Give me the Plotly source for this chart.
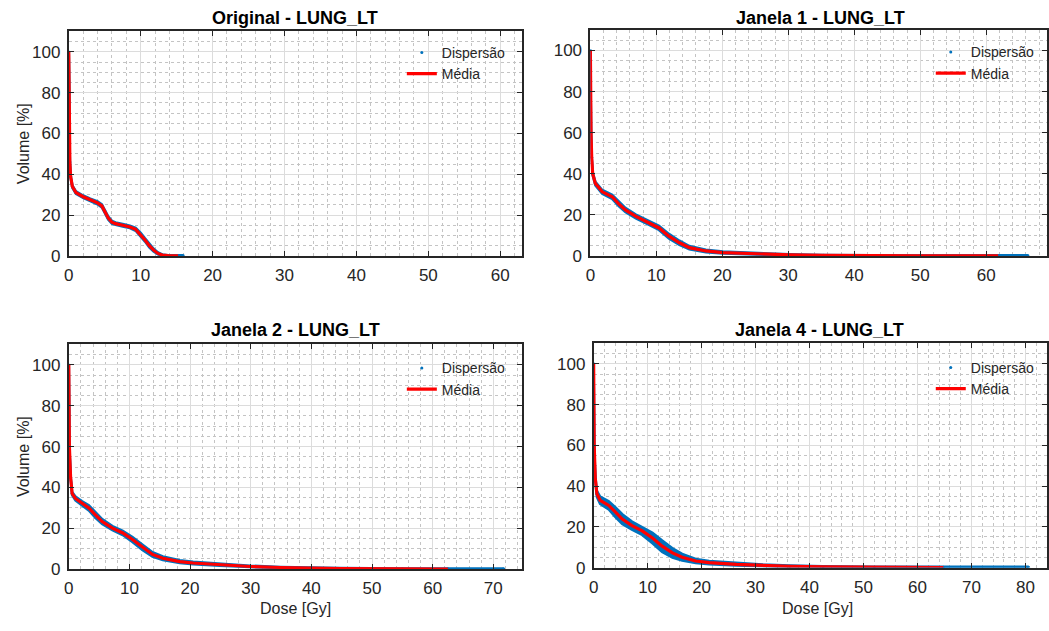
import plotly.graph_objects as go

# ---------------- data ----------------
titles = ["Original - LUNG_LT", "Janela 1 - LUNG_LT", "Janela 2 - LUNG_LT", "Janela 4 - LUNG_LT"]
series_names = ["Dispersão", "Média"]
y_ticks = [0, 20, 40, 60, 80, 100]

# Original
dose_orig = [0, 0.03, 0.08, 0.15, 0.25, 0.5, 1.0, 2.0, 3.0, 4.0, 4.6, 5.0, 5.5, 6.0, 6.5, 7.5, 8.5, 9.3,
             10.0, 10.6, 11.2, 11.8, 12.4, 13.0, 13.8, 15.2]
mean_orig = [100, 80, 60, 46, 39, 34, 31, 29, 27.5, 26, 24.5, 22, 18.5, 16.5, 15.8, 15.0, 14.2, 13.0,
             10.5, 7.8, 5.0, 2.8, 1.2, 0.4, 0.1, 0.0]
spread_orig = [0, 0, 0, 0.5, 0.6, 0.6, 0.6, 0.6, 0.6, 0.7, 0.8, 0.8, 0.8, 0.7, 0.6, 0.6, 0.6, 0.7,
               0.8, 0.8, 0.8, 0.7, 0.5, 0.3, 0.2, 0.2]
tail_end_orig = 15.9

# Janela 1
dose_j1 = [0, 0.03, 0.1, 0.2, 0.35, 0.76, 1.8, 3.3, 4.3, 5.3, 6.9, 8.9, 10.4, 11.9, 13.5, 15.0, 17.5,
           20.1, 25.2, 30.2, 35.3, 40.4, 50.0, 61.8]
mean_j1 = [100, 80, 60, 48, 40, 35.2, 31.2, 28.8, 25.3, 22.4, 19.2, 16.0, 13.6, 9.6, 6.4, 4.0, 2.4,
           1.6, 1.0, 0.5, 0.25, 0.1, 0.03, 0.0]
spread_j1 = [0, 0, 0, 0.5, 0.8, 0.9, 0.9, 1.0, 1.1, 1.0, 0.9, 0.9, 1.0, 1.1, 1.0, 0.8, 0.6,
             0.5, 0.4, 0.3, 0.2, 0.2, 0.2, 0.2]
tail_end_j1 = 66.3

# Janela 2
dose_j2 = [0, 0.03, 0.1, 0.3, 0.55, 1.1, 2.2, 3.3, 4.4, 5.5, 7.2, 8.9, 10.5, 12.2, 13.8, 15.5, 18.3,
           20.5, 24.9, 29.9, 34.9, 39.8, 44.8, 55.0, 62.5]
mean_j2 = [100, 80, 60, 45, 37, 34.6, 32.2, 30, 26.5, 23.3, 20.1, 17.7, 14.5, 10.5, 7.2, 5.3, 3.7,
           3.0, 2.1, 1.3, 0.8, 0.5, 0.3, 0.1, 0.0]
spread_j2 = [0, 0, 0, 0.6, 0.8, 1.0, 1.0, 1.3, 1.4, 1.2, 1.0, 1.0, 1.2, 1.3, 1.1, 0.9, 0.7,
             0.6, 0.5, 0.4, 0.3, 0.3, 0.2, 0.2, 0.2]
tail_end_j2 = 71.7

# Janela 4
dose_j4 = [0, 0.03, 0.1, 0.3, 0.6, 1.2, 2.8, 4.0, 5.3, 7.1, 9.0, 10.9, 12.7, 14.6, 16.4, 18.9, 21.4,
           26.4, 31.3, 36.3, 42.5, 52.0, 64.8]
mean_j4 = [100, 80, 60, 44, 36.2, 33, 30.5, 27.3, 23.8, 20.6, 18, 14.5, 10.5, 7.2, 5.1, 3.2, 2.4,
           1.6, 1.0, 0.6, 0.3, 0.1, 0.0]
spread_j4 = [0, 0, 0, 1.0, 1.5, 1.8, 2.0, 2.4, 2.4, 2.0, 2.0, 2.6, 2.8, 2.3, 1.6, 1.0, 0.8,
             0.6, 0.5, 0.4, 0.3, 0.3, 0.3]
tail_end_j4 = 80.6

tail_level = 0.35  # dispersion height along the floor beyond the mean curve

panels = [
    (dose_orig, mean_orig, spread_orig, tail_end_orig),
    (dose_j1, mean_j1, spread_j1, tail_end_j1),
    (dose_j2, mean_j2, spread_j2, tail_end_j2),
    (dose_j4, mean_j4, spread_j4, tail_end_j4),
]

# ---------------- layout geometry ----------------
W, H = 1049, 631
boxes = [  # left, right, top, bottom in pixels
    (64.2, 520.3, 32.0, 260.0),
    (589.3, 1049.0, 30.5, 260.0),
    (64.2, 520.3, 350.0, 578.3),
    (592.6, 1049.0, 349.0, 576.7),
]
x_ranges = [[0, 63.0], [0, 69.2], [0, 74.7], [0, 84.0]]
x_ticks = [list(range(0, 61, 10)), list(range(0, 61, 10)), list(range(0, 71, 10)), list(range(0, 81, 10))]
title_x = [292.0, 821.0, 292.0, 820.0]
title_y = [18.3, 18.3, 335.0, 335.0]
legend_text_x = [441.5, 974.0, 441.5, 974.0]
legend_first_y = [49.5, 49.0, 370.0, 369.5]

BLUE = "#0072BD"
RED = "#FF0000"
AX = "#262626"
FONT = "Liberation Sans, Arial, sans-serif"

fig = go.Figure()
legend_names = ["legend", "legend2", "legend3", "legend4"]

for i, (dose, mean, spread, tail_end) in enumerate(panels):
    xa = "x" if i == 0 else f"x{i+1}"
    ya = "y" if i == 0 else f"y{i+1}"
    lg = legend_names[i]
    d_x = dose + [tail_end]
    lo = [max(m - s, 0) for m, s in zip(mean, spread)] + [0]
    hi = [m + s for m, s in zip(mean, spread)]
    hi[-1] = max(hi[-1], tail_level)
    hi = hi + [tail_level]
    fig.add_trace(go.Scatter(x=d_x, y=lo, mode="lines", line=dict(color=BLUE, width=2.5),
                             showlegend=False, legend=lg, xaxis=xa, yaxis=ya, hoverinfo="skip"))
    fig.add_trace(go.Scatter(x=d_x, y=hi, mode="lines", line=dict(color=BLUE, width=2.5),
                             fill="tonexty", fillcolor=BLUE, showlegend=False, legend=lg,
                             xaxis=xa, yaxis=ya, hoverinfo="skip"))
    fig.add_trace(go.Scatter(x=d_x, y=[(a + b) / 2 for a, b in zip(lo, hi)], mode="markers",
                             marker=dict(color=BLUE, size=3), name=series_names[0],
                             legend=lg, xaxis=xa, yaxis=ya))
    fig.add_trace(go.Scatter(x=dose, y=mean, mode="lines", line=dict(color=RED, width=3.2),
                             name=series_names[1], legend=lg, xaxis=xa, yaxis=ya))

layout = dict(
    width=W, height=H, autosize=False,
    margin=dict(l=0, r=0, t=0, b=0),
    paper_bgcolor="white", plot_bgcolor="white",
    font=dict(family=FONT, color=AX, size=17),
    annotations=[],
)

for i, (l, r, t, b) in enumerate(boxes):
    sfx = "" if i == 0 else str(i + 1)
    common = dict(
        showline=True, linecolor=AX, linewidth=1.8, mirror="allticks",
        ticks="inside", ticklen=5, tickcolor=AX, tickwidth=1.2,
        showgrid=True, gridcolor="#dcdcdc", gridwidth=1,
        zeroline=False, tickfont=dict(family=FONT, size=17, color=AX),
    )
    layout["xaxis" + sfx] = dict(
        common, domain=[l / W, r / W], range=x_ranges[i], tickvals=x_ticks[i],
        anchor="y" + sfx, ticklabelstandoff=3,
        minor=dict(dtick=2, tick0=0, showgrid=True, gridcolor="#c4c4c4", griddash="dot", gridwidth=1),
    )
    layout["yaxis" + sfx] = dict(
        common, domain=[1 - b / H, 1 - t / H], range=[0, 110], tickvals=y_ticks,
        anchor="x" + sfx, ticklabelstandoff=3,
        minor=dict(dtick=5, tick0=0, showgrid=True, gridcolor="#c4c4c4", griddash="dot", gridwidth=1),
    )
    layout[legend_names[i]] = dict(
        x=(legend_text_x[i] - 42) / W, xanchor="left", xref="paper",
        y=1 - (legend_first_y[i] - 12) / H, yanchor="top", yref="paper",
        bgcolor="rgba(0,0,0,0)", borderwidth=0, traceorder="normal",
        font=dict(family=FONT, size=14, color=AX), tracegroupgap=0,
    )
    layout["annotations"].append(dict(
        text="<b>" + titles[i] + "</b>", x=title_x[i] / W,
        y=1 - title_y[i] / H, xref="paper", yref="paper", showarrow=False,
        xanchor="center", yanchor="middle", font=dict(family=FONT, size=18, color="#000000"),
    ))

# axis titles
for cy in (146.0, 464.0):
    layout["annotations"].append(dict(
        text="Volume [%]", x=18.6 / W, y=1 - cy / H, xref="paper", yref="paper",
        showarrow=False, textangle=-90, xanchor="center", yanchor="middle",
        font=dict(family=FONT, size=16, color=AX),
    ))
for cx in (292.0, 818.0):
    layout["annotations"].append(dict(
        text="Dose [Gy]", x=cx / W, y=1 - 618.3 / H, xref="paper", yref="paper",
        showarrow=False, xanchor="center", yanchor="middle",
        font=dict(family=FONT, size=16, color=AX),
    ))

fig.update_layout(**layout)
fig.write_html("out.html", config={"displayModeBar": False},
               post_script="document.body.style.margin='0';document.body.style.overflow='hidden';")
